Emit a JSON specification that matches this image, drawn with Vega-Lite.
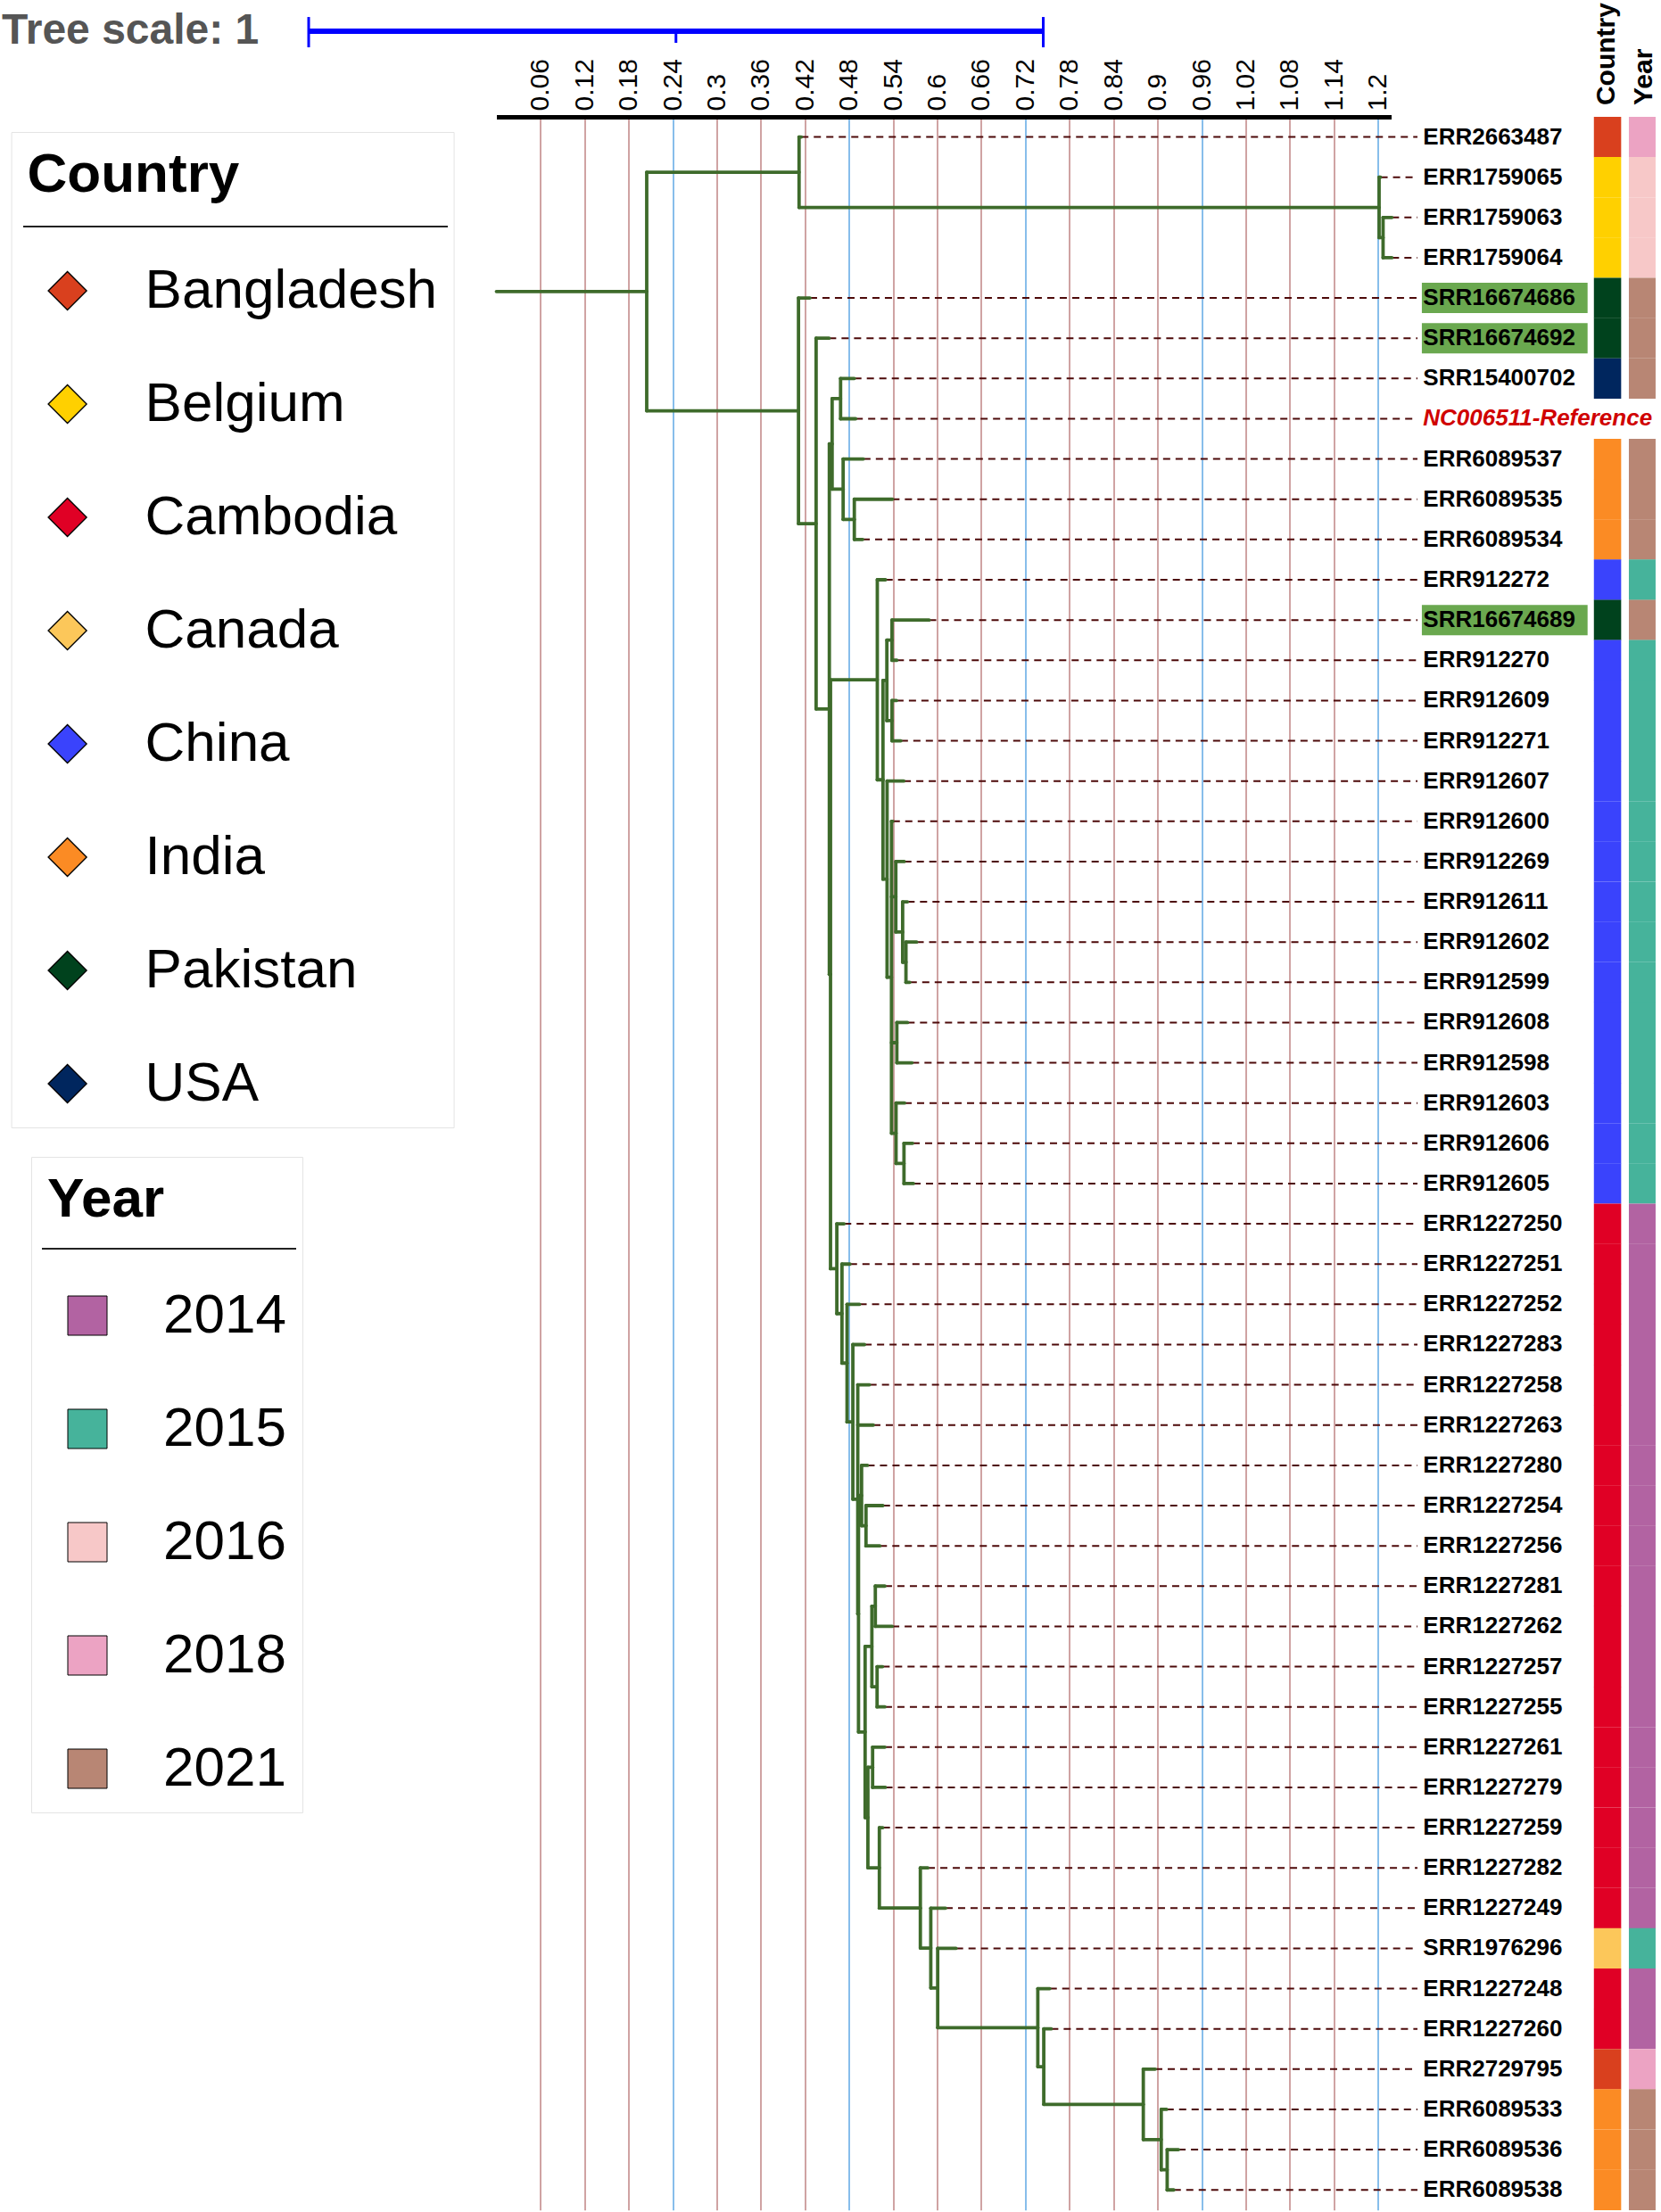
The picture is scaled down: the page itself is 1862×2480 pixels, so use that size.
{
  "$schema": "https://vega.github.io/schema/vega-lite/v6.json",
  "width": 1003,
  "height": 2346.8,
  "autosize": {"type": "none"},
  "padding": {"left": 556.5, "top": 131, "right": 302.5, "bottom": 2.2},
  "background": "white",
  "config": {"view": {"stroke": null}, "font": "Liberation Sans", "scale": {"continuousPadding": 0}},
  "datasets": {
    "tree": [
      {"id":"A","px":0,"x":0.2046,"y":4.839,"y0":1.875,"y1":7.803},
      {"id":"B","px":0.2046,"x":0.412,"y":1.875,"y0":1,"y1":2.75},
      {"id":"C","px":0.412,"x":1.2016,"y":2.75,"y0":2,"y1":3.5},
      {"id":"C2","px":1.2016,"x":1.207,"y":3.5,"y0":3,"y1":4},
      {"id":"D","px":0.2046,"x":0.4112,"y":7.803,"y0":5,"y1":10.606},
      {"id":"E","px":0.4112,"x":0.4352,"y":10.606,"y0":6,"y1":15.21},
      {"id":"J","px":0.4352,"x":0.4532,"y":15.21,"y0":8.625,"y1":21.8},
      {"id":"I","px":0.4532,"x":0.457,"y":8.625,"y0":7.5,"y1":9.75},
      {"id":"G","px":0.457,"x":0.4685,"y":7.5,"y0":7,"y1":8},
      {"id":"H","px":0.457,"x":0.472,"y":9.75,"y0":9,"y1":10.5},
      {"id":"H2","px":0.472,"x":0.4872,"y":10.5,"y0":10,"y1":11},
      {"id":"K","px":0.4532,"x":0.4548,"y":21.8,"y0":14.484,"y1":29.115},
      {"id":"L","px":0.4548,"x":0.5185,"y":14.484,"y0":12,"y1":16.969},
      {"id":"N","px":0.5185,"x":0.5262,"y":16.969,"y0":14.5,"y1":19.438},
      {"id":"O","px":0.5262,"x":0.5315,"y":14.5,"y0":13.5,"y1":15.5},
      {"id":"Q","px":0.5315,"x":0.5385,"y":13.5,"y0":13,"y1":14},
      {"id":"R","px":0.5315,"x":0.5385,"y":15.5,"y0":15,"y1":16},
      {"id":"P","px":0.5262,"x":0.5318,"y":19.438,"y0":17,"y1":21.875},
      {"id":"S","px":0.5318,"x":0.5378,"y":21.875,"y0":18,"y1":25.75},
      {"id":"X","px":0.5378,"x":0.5437,"y":19.875,"y0":19,"y1":20.75},
      {"id":"V","px":0.5437,"x":0.553,"y":20.75,"y0":20,"y1":21.5},
      {"id":"W","px":0.553,"x":0.5575,"y":21.5,"y0":21,"y1":22},
      {"id":"U","px":0.5378,"x":0.5451,"y":23.5,"y0":23,"y1":24},
      {"id":"T","px":0.5378,"x":0.544,"y":25.75,"y0":25,"y1":26.5},
      {"id":"Z","px":0.544,"x":0.5548,"y":26.5,"y0":26,"y1":27},
      {"id":"M","px":0.4548,"x":0.4634,"y":29.115,"y0":28,"y1":30.23},
      {"id":"AA","px":0.4634,"x":0.4704,"y":30.23,"y0":29,"y1":31.46},
      {"id":"AB","px":0.4704,"x":0.4773,"y":31.46,"y0":30,"y1":32.92},
      {"id":"AC","px":0.4773,"x":0.4852,"y":32.92,"y0":31,"y1":34.84},
      {"id":"AD0","px":0.4852,"x":0.4919,"y":34.84,"y0":32,"y1":37.687},
      {"id":"X2","px":0.4919,"x":0.4929,"y":37.687,"y0":34.75,"y1":40.625},
      {"id":"BG","px":0.4929,"x":0.4971,"y":34.75,"y0":34,"y1":35.5},
      {"id":"BH","px":0.4971,"x":0.5031,"y":35.5,"y0":35,"y1":36},
      {"id":"BB","px":0.4929,"x":0.5019,"y":40.625,"y0":38.5,"y1":42.749},
      {"id":"BC","px":0.5019,"x":0.5111,"y":38.5,"y0":37.5,"y1":39.5},
      {"id":"BD","px":0.5111,"x":0.5158,"y":37.5,"y0":37,"y1":38},
      {"id":"BE","px":0.5111,"x":0.5182,"y":39.5,"y0":39,"y1":40},
      {"id":"AC2","px":0.5019,"x":0.5057,"y":42.749,"y0":41.5,"y1":43.998},
      {"id":"BA","px":0.5057,"x":0.5121,"y":41.5,"y0":41,"y1":42},
      {"id":"AD","px":0.5057,"x":0.5213,"y":43.998,"y0":43,"y1":44.996},
      {"id":"AE","px":0.5213,"x":0.5771,"y":44.996,"y0":44,"y1":45.992},
      {"id":"AF","px":0.5771,"x":0.5913,"y":45.992,"y0":45,"y1":46.984},
      {"id":"AG","px":0.5913,"x":0.6007,"y":46.984,"y0":46,"y1":47.969},
      {"id":"AH","px":0.6007,"x":0.737,"y":47.969,"y0":47,"y1":48.938},
      {"id":"AI","px":0.737,"x":0.7451,"y":48.938,"y0":48,"y1":49.875},
      {"id":"AJ","px":0.7451,"x":0.8806,"y":49.875,"y0":49,"y1":50.75},
      {"id":"AK","px":0.8806,"x":0.905,"y":50.75,"y0":50,"y1":51.5},
      {"id":"AL","px":0.905,"x":0.9131,"y":51.5,"y0":51,"y1":52},
      {"label":"ERR2663487","px":0.412,"x":0.415,"y":1,"country":"Bangladesh","year":"2018"},
      {"label":"ERR1759065","px":1.2016,"x":1.2035,"y":2,"country":"Belgium","year":"2016"},
      {"label":"ERR1759063","px":1.207,"x":1.219,"y":3,"country":"Belgium","year":"2016"},
      {"label":"ERR1759064","px":1.207,"x":1.219,"y":4,"country":"Belgium","year":"2016"},
      {"label":"SRR16674686","px":0.4112,"x":0.4268,"y":5,"country":"Pakistan","year":"2021"},
      {"label":"SRR16674692","px":0.4352,"x":0.4528,"y":6,"country":"Pakistan","year":"2021"},
      {"label":"SRR15400702","px":0.4685,"x":0.4872,"y":7,"country":"USA","year":"2021"},
      {"label":"NC006511-Reference","px":0.4685,"x":0.489,"y":8},
      {"label":"ERR6089537","px":0.472,"x":0.4995,"y":9,"country":"India","year":"2021"},
      {"label":"ERR6089535","px":0.4872,"x":0.539,"y":10,"country":"India","year":"2021"},
      {"label":"ERR6089534","px":0.4872,"x":0.4985,"y":11,"country":"India","year":"2021"},
      {"label":"ERR912272","px":0.5185,"x":0.5297,"y":12,"country":"China","year":"2015"},
      {"label":"SRR16674689","px":0.5385,"x":0.589,"y":13,"country":"Pakistan","year":"2021"},
      {"label":"ERR912270","px":0.5385,"x":0.545,"y":14,"country":"China","year":"2015"},
      {"label":"ERR912609","px":0.5385,"x":0.5445,"y":15,"country":"China","year":"2015"},
      {"label":"ERR912271","px":0.5385,"x":0.5505,"y":16,"country":"China","year":"2015"},
      {"label":"ERR912607","px":0.5318,"x":0.5545,"y":17,"country":"China","year":"2015"},
      {"label":"ERR912600","px":0.5378,"x":0.5395,"y":18,"country":"China","year":"2015"},
      {"label":"ERR912269","px":0.5437,"x":0.5552,"y":19,"country":"China","year":"2015"},
      {"label":"ERR912611","px":0.553,"x":0.5596,"y":20,"country":"China","year":"2015"},
      {"label":"ERR912602","px":0.5575,"x":0.572,"y":21,"country":"China","year":"2015"},
      {"label":"ERR912599","px":0.5575,"x":0.5626,"y":22,"country":"China","year":"2015"},
      {"label":"ERR912608","px":0.5451,"x":0.5596,"y":23,"country":"China","year":"2015"},
      {"label":"ERR912598","px":0.5451,"x":0.5657,"y":24,"country":"China","year":"2015"},
      {"label":"ERR912603","px":0.544,"x":0.5556,"y":25,"country":"China","year":"2015"},
      {"label":"ERR912606","px":0.5548,"x":0.5665,"y":26,"country":"China","year":"2015"},
      {"label":"ERR912605","px":0.5548,"x":0.5677,"y":27,"country":"China","year":"2015"},
      {"label":"ERR1227250","px":0.4634,"x":0.4733,"y":28,"country":"Cambodia","year":"2014"},
      {"label":"ERR1227251","px":0.4704,"x":0.4812,"y":29,"country":"Cambodia","year":"2014"},
      {"label":"ERR1227252","px":0.4773,"x":0.4943,"y":30,"country":"Cambodia","year":"2014"},
      {"label":"ERR1227283","px":0.4852,"x":0.5011,"y":31,"country":"Cambodia","year":"2014"},
      {"label":"ERR1227258","px":0.4919,"x":0.5078,"y":32,"country":"Cambodia","year":"2014"},
      {"label":"ERR1227263","px":0.4919,"x":0.513,"y":33,"country":"Cambodia","year":"2014"},
      {"label":"ERR1227280","px":0.4971,"x":0.5051,"y":34,"country":"Cambodia","year":"2014"},
      {"label":"ERR1227254","px":0.5031,"x":0.5261,"y":35,"country":"Cambodia","year":"2014"},
      {"label":"ERR1227256","px":0.5031,"x":0.5219,"y":36,"country":"Cambodia","year":"2014"},
      {"label":"ERR1227281","px":0.5158,"x":0.5288,"y":37,"country":"Cambodia","year":"2014"},
      {"label":"ERR1227262","px":0.5158,"x":0.5387,"y":38,"country":"Cambodia","year":"2014"},
      {"label":"ERR1227257","px":0.5182,"x":0.5256,"y":39,"country":"Cambodia","year":"2014"},
      {"label":"ERR1227255","px":0.5182,"x":0.5288,"y":40,"country":"Cambodia","year":"2014"},
      {"label":"ERR1227261","px":0.5121,"x":0.5288,"y":41,"country":"Cambodia","year":"2014"},
      {"label":"ERR1227279","px":0.5121,"x":0.5295,"y":42,"country":"Cambodia","year":"2014"},
      {"label":"ERR1227259","px":0.5213,"x":0.526,"y":43,"country":"Cambodia","year":"2014"},
      {"label":"ERR1227282","px":0.5771,"x":0.5872,"y":44,"country":"Cambodia","year":"2014"},
      {"label":"ERR1227249","px":0.5913,"x":0.6114,"y":45,"country":"Cambodia","year":"2014"},
      {"label":"SRR1976296","px":0.6007,"x":0.6256,"y":46,"country":"Canada","year":"2015"},
      {"label":"ERR1227248","px":0.737,"x":0.7532,"y":47,"country":"Cambodia","year":"2014"},
      {"label":"ERR1227260","px":0.7451,"x":0.7552,"y":48,"country":"Cambodia","year":"2014"},
      {"label":"ERR2729795","px":0.8806,"x":0.8968,"y":49,"country":"Bangladesh","year":"2018"},
      {"label":"ERR6089533","px":0.905,"x":0.9123,"y":50,"country":"India","year":"2021"},
      {"label":"ERR6089536","px":0.9131,"x":0.9285,"y":51,"country":"India","year":"2021"},
      {"label":"ERR6089538","px":0.9131,"x":0.922,"y":52,"country":"India","year":"2021"}
    ]
  },
  "data": {"name": "tree"},
  "layer": [
    {
      "transform": [{"filter": "isValid(datum.label)"}],
      "mark": {"type": "rule", "color": "#4d0a0a", "strokeWidth": 2, "strokeDash": [8, 6]},
      "encoding": {
        "x": {"field": "x", "type": "quantitative", "scale": {"domain": [0, 1.218], "nice": false, "zero": false, "padding": 0},
          "axis": {"orient": "top", "title": null,
            "values": [0.06,0.12,0.18,0.24,0.3,0.36,0.42,0.48,0.54,0.6,0.66,0.72,0.78,0.84,0.9,0.96,1.02,1.08,1.14,1.2],
            "ticks": false, "domain": true, "domainColor": "black", "domainWidth": 5,
            "grid": true, "gridWidth": 1.6,
            "gridColor": {"condition": {"test": "datum.value == 0.24 || datum.value == 0.48 || datum.value == 0.72 || datum.value == 0.96 || datum.value == 1.2", "value": "#6aaee6"}, "value": "#c48c8c"},
            "labelAngle": 270, "labelAlign": "left", "labelBaseline": "middle", "labelFontSize": 30,
            "labelFont": "Liberation Sans", "labelColor": "black", "labelPadding": 7,
            "labelOverlap": false, "labelFlush": false, "labelExpr": "format(datum.value, '.2~f')"}},
        "x2": {"datum": 1.2538},
        "y": {"field": "y", "type": "quantitative", "scale": {"domain": [0.5, 52.5], "nice": false, "zero": false, "reverse": true, "padding": 0}, "axis": null}
      }
    },
    {
      "mark": {"type": "rule", "color": "#3e6b2b", "strokeWidth": 3.8, "strokeCap": "round"},
      "encoding": {
        "x": {"field": "px", "type": "quantitative", "scale": {"domain": [0, 1.218], "nice": false, "zero": false, "padding": 0}},
        "x2": {"field": "x"},
        "y": {"field": "y", "type": "quantitative", "scale": {"domain": [0.5, 52.5], "nice": false, "zero": false, "reverse": true, "padding": 0}, "axis": null}
      }
    },
    {
      "transform": [{"filter": "isValid(datum.y0)"}],
      "mark": {"type": "rule", "color": "#3e6b2b", "strokeWidth": 3.8, "strokeCap": "round"},
      "encoding": {
        "x": {"field": "x", "type": "quantitative", "scale": {"domain": [0, 1.218], "nice": false, "zero": false, "padding": 0}},
        "y": {"field": "y0", "type": "quantitative", "scale": {"domain": [0.5, 52.5], "nice": false, "zero": false, "reverse": true, "padding": 0}, "axis": null},
        "y2": {"field": "y1"}
      }
    },
    {
      "transform": [{"filter": "indexof(['SRR16674686','SRR16674692','SRR16674689'], datum.label) >= 0"}],
      "mark": {"type": "bar", "orient": "horizontal", "color": "#6aa84f", "height": 34},
      "encoding": {
        "x": {"datum": 1.2598, "type": "quantitative", "scale": {"domain": [0, 1.218], "nice": false, "zero": false, "padding": 0}},
        "x2": {"datum": 1.4854},
        "y": {"field": "y", "type": "quantitative", "scale": {"domain": [0.5, 52.5], "nice": false, "zero": false, "reverse": true, "padding": 0}, "axis": null}
      }
    },
    {
      "transform": [{"filter": "isValid(datum.label) && datum.label != 'NC006511-Reference'"}],
      "mark": {"type": "text", "align": "left", "baseline": "middle", "font": "Liberation Sans", "fontWeight": "bold", "fontSize": 26, "color": "black"},
      "encoding": {
        "x": {"datum": 1.2615, "type": "quantitative", "scale": {"domain": [0, 1.218], "nice": false, "zero": false, "padding": 0}},
        "y": {"field": "y", "type": "quantitative", "scale": {"domain": [0.5, 52.5], "nice": false, "zero": false, "reverse": true, "padding": 0}, "axis": null},
        "text": {"field": "label"}
      }
    },
    {
      "transform": [{"filter": "datum.label == 'NC006511-Reference'"}],
      "mark": {"type": "text", "align": "left", "baseline": "middle", "font": "Liberation Sans", "fontWeight": "bold", "fontStyle": "italic", "fontSize": 26, "color": "#d00000"},
      "encoding": {
        "x": {"datum": 1.2615, "type": "quantitative", "scale": {"domain": [0, 1.218], "nice": false, "zero": false, "padding": 0}},
        "y": {"field": "y", "type": "quantitative", "scale": {"domain": [0.5, 52.5], "nice": false, "zero": false, "reverse": true, "padding": 0}, "axis": null},
        "text": {"field": "label"}
      }
    },
    {
      "transform": [{"filter": "isValid(datum.country)"}],
      "mark": {"type": "bar", "orient": "horizontal", "height": 45.3},
      "encoding": {
        "x": {"datum": 1.494, "type": "quantitative", "scale": {"domain": [0, 1.218], "nice": false, "zero": false, "padding": 0}},
        "x2": {"datum": 1.5311},
        "y": {"field": "y", "type": "quantitative", "scale": {"domain": [0.5, 52.5], "nice": false, "zero": false, "reverse": true, "padding": 0}, "axis": null},
        "fill": {"field": "country", "type": "nominal",
          "scale": {"domain": ["Bangladesh","Belgium","Cambodia","Canada","China","India","Pakistan","USA"],
                    "range": ["#d9401e","#ffd000","#e00025","#fcc75a","#3a43fc","#fb8b24","#00421d","#00265e"]},
          "legend": {"orient": "none", "legendX": -543.9, "legendY": 17, "title": "Country",
            "symbolType": "diamond", "symbolSize": 1850, "symbolStrokeColor": "black", "symbolStrokeWidth": 1.4,
            "titleFont": "Liberation Sans", "titleFontSize": 62, "titleFontWeight": "bold", "titleColor": "black",
            "labelFont": "Liberation Sans", "labelFontSize": 62, "labelColor": "black",
            "padding": 18, "strokeColor": "#e4e4e4",
            "rowPadding": 65, "titlePadding": 67, "symbolOffset": 14, "labelOffset": 56,
            "labelLimit": 0, "titleLimit": 0}}
      }
    },
    {
      "transform": [{"filter": "isValid(datum.year)"}],
      "mark": {"type": "bar", "orient": "horizontal", "height": 45.3},
      "encoding": {
        "x": {"datum": 1.5416, "type": "quantitative", "scale": {"domain": [0, 1.218], "nice": false, "zero": false, "padding": 0}},
        "x2": {"datum": 1.578},
        "y": {"field": "y", "type": "quantitative", "scale": {"domain": [0.5, 52.5], "nice": false, "zero": false, "reverse": true, "padding": 0}, "axis": null},
        "fill": {"field": "year", "type": "nominal",
          "scale": {"domain": ["2014","2015","2016","2018","2021"],
                    "range": ["#b263a2","#46b39b","#f7c8c8","#eca3c3","#b88674"]},
          "legend": {"orient": "none", "legendX": -521.5, "legendY": 1166, "title": "Year",
            "symbolType": "square", "symbolSize": 1936, "symbolStrokeColor": "black", "symbolStrokeWidth": 1,
            "titleFont": "Liberation Sans", "titleFontSize": 62, "titleFontWeight": "bold", "titleColor": "black",
            "labelFont": "Liberation Sans", "labelFontSize": 62, "labelColor": "black",
            "padding": 18, "strokeColor": "#e4e4e4",
            "rowPadding": 65, "titlePadding": 67, "symbolOffset": 14, "labelOffset": 54,
            "labelLimit": 0, "titleLimit": 0}}
      }
    },
    {
      "data": {"values": [{}]},
      "layer": [
        {
          "mark": {"type": "text", "text": "Country", "angle": 270, "align": "left", "baseline": "middle", "font": "Liberation Sans", "fontWeight": "bold", "fontSize": 30, "color": "black"},
          "encoding": {
            "x": {"datum": 1.511, "type": "quantitative", "scale": {"domain": [0, 1.218], "nice": false, "zero": false, "padding": 0}},
            "y": {"datum": 0.2134, "type": "quantitative", "scale": {"domain": [0.5, 52.5], "nice": false, "zero": false, "reverse": true, "padding": 0}, "axis": null}
          }
        },
        {
          "mark": {"type": "text", "text": "Year", "angle": 270, "align": "left", "baseline": "middle", "font": "Liberation Sans", "fontWeight": "bold", "fontSize": 30, "color": "black"},
          "encoding": {
            "x": {"datum": 1.562, "type": "quantitative"},
            "y": {"datum": 0.2134, "type": "quantitative"}
          }
        },
        {
          "mark": {"type": "text", "text": "Tree scale: 1", "align": "left", "baseline": "middle", "font": "Liberation Sans", "fontWeight": "bold", "fontSize": 48, "color": "#555555"},
          "encoding": {
            "x": {"datum": -0.6733, "type": "quantitative"},
            "y": {"datum": -1.6257, "type": "quantitative"}
          }
        },
        {
          "mark": {"type": "rule", "color": "#0000ff", "strokeWidth": 6},
          "encoding": {
            "x": {"datum": -0.2556, "type": "quantitative"},
            "x2": {"datum": 0.7444},
            "y": {"datum": -1.6257, "type": "quantitative"}
          }
        },
        {
          "mark": {"type": "rule", "color": "#0000ff", "strokeWidth": 3},
          "encoding": {
            "x": {"datum": -0.2556, "type": "quantitative"},
            "y": {"datum": -1.98, "type": "quantitative"},
            "y2": {"datum": -1.227}
          }
        },
        {
          "mark": {"type": "rule", "color": "#0000ff", "strokeWidth": 3},
          "encoding": {
            "x": {"datum": 0.7444, "type": "quantitative"},
            "y": {"datum": -1.98, "type": "quantitative"},
            "y2": {"datum": -1.227}
          }
        },
        {
          "mark": {"type": "rule", "color": "#0000ff", "strokeWidth": 3},
          "encoding": {
            "x": {"datum": 0.2444, "type": "quantitative"},
            "y": {"datum": -1.6257, "type": "quantitative"},
            "y2": {"datum": -1.338}
          }
        },
        {
          "mark": {"type": "rule", "color": "#222222", "strokeWidth": 2},
          "encoding": {
            "x": {"datum": -0.6442, "type": "quantitative"},
            "x2": {"datum": -0.0662},
            "y": {"datum": 3.227, "type": "quantitative"}
          }
        },
        {
          "mark": {"type": "rule", "color": "#222222", "strokeWidth": 2},
          "encoding": {
            "x": {"datum": -0.6187, "type": "quantitative"},
            "x2": {"datum": -0.2726},
            "y": {"datum": 28.62, "type": "quantitative"}
          }
        }
      ]
    }
  ],
  "resolve": {"scale": {"fill": "independent"}, "legend": {"fill": "independent"}}
}
